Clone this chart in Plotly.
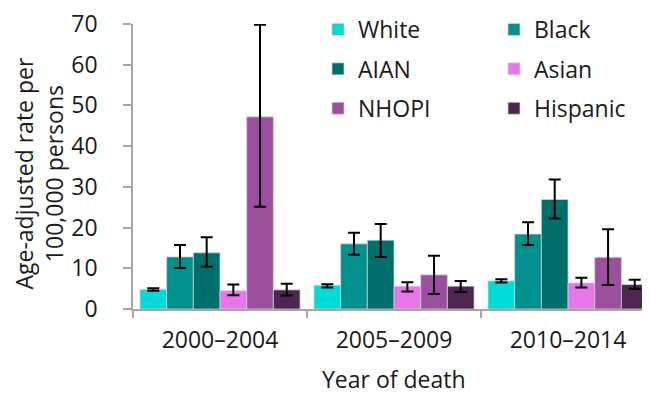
import plotly.graph_objects as go

categories = ["2000–2004", "2005–2009", "2010–2014"]
groups = ["White", "Black", "AIAN", "Asian", "NHOPI", "Hispanic"]

white = [4.8, 5.8, 6.9]
white_hi = [5.1, 6.1, 7.3]
white_lo = [4.5, 5.3, 6.5]

black = [12.8, 16.0, 18.4]
black_hi = [15.7, 18.7, 21.3]
black_lo = [10.1, 13.3, 15.7]

aian = [13.8, 16.9, 26.9]
aian_hi = [17.6, 20.9, 31.8]
aian_lo = [10.4, 12.8, 22.2]

asian = [4.5, 5.6, 6.4]
asian_hi = [6.0, 6.6, 7.7]
asian_lo = [3.4, 4.3, 5.3]

nhopi = [47.2, 8.4, 12.7]
nhopi_hi = [69.8, 13.1, 19.6]
nhopi_lo = [25.1, 3.7, 5.9]

hispanic = [4.7, 5.6, 6.0]
hispanic_hi = [6.2, 6.9, 7.2]
hispanic_lo = [3.3, 4.2, 5.0]

x_title = "Year of death"
y_title = "Age-adjusted rate per<br>100,000 persons"

colors = ["#00DBD8", "#00918D", "#006E6A", "#E677EA", "#9B4F9E", "#4F2650"]

series = [
    (white, white_hi, white_lo),
    (black, black_hi, black_lo),
    (aian, aian_hi, aian_lo),
    (asian, asian_hi, asian_lo),
    (nhopi, nhopi_hi, nhopi_lo),
    (hispanic, hispanic_hi, hispanic_lo),
]

FONT = "Open Sans"
TXT = "#1a1a1a"
fig = go.Figure()
for i, (name, (vals, hi, lo)) in enumerate(zip(groups, series)):
    fig.add_trace(go.Bar(
        x=categories, y=vals, name=name,
        marker=dict(color=colors[i], line=dict(color="rgba(215,215,215,0.9)", width=0.8)),
        error_y=dict(type="data", symmetric=False,
                     array=[h - v for h, v in zip(hi, vals)],
                     arrayminus=[v - l for v, l in zip(vals, lo)],
                     color="black", thickness=2, width=6),
        legend="legend" if i % 2 == 0 else "legend2",
        legendgroup=name,
    ))

leg_common = dict(font=dict(family=FONT, size=23, color=TXT),
                  orientation="v", xanchor="left", yanchor="top",
                  xref="container", yref="container",
                  tracegroupgap=6.5, bgcolor="rgba(0,0,0,0)")

fig.update_layout(
    width=642, height=386,
    margin=dict(l=125, r=0, t=16, b=85, autoexpand=False),
    paper_bgcolor="white", plot_bgcolor="white",
    font=dict(family=FONT, size=23, color=TXT),
    barmode="group", bargap=0.08, bargroupgap=0,
    showlegend=True,
    legend=dict(x=0.4829, y=1.0078, **leg_common),
    legend2=dict(x=0.757, y=1.0078, **leg_common),
    xaxis=dict(
        range=[-0.5, 2.471], showline=True, linecolor="#A6A6A6", linewidth=1.5,
        ticks="outside", tickson="boundaries", ticklen=7, tickcolor="#A6A6A6",
        tickwidth=1.5, showgrid=False, automargin=False, ticklabelstandoff=10,
        tickfont=dict(family=FONT, size=23, color=TXT),
    ),
    yaxis=dict(
        range=[0, 70], dtick=10, showline=True, linecolor="#A6A6A6", linewidth=1.5,
        ticks="outside", ticklen=8, tickcolor="#A6A6A6", tickwidth=1.5,
        showgrid=False, zeroline=False, automargin=False, ticklabelstandoff=21,
        ticklabeloverflow="allow",
        tickfont=dict(family=FONT, size=23, color=TXT),
    ),
    annotations=[
        dict(text=x_title, xref="paper", yref="paper", x=0.5039, y=-0.2456,
             xanchor="center", yanchor="middle", showarrow=False,
             font=dict(family=FONT, size=23, color=TXT)),
        dict(text=y_title, xref="paper", yref="paper", x=-0.1818, y=0.4754,
             xanchor="center", yanchor="middle", showarrow=False, textangle=-90,
             font=dict(family=FONT, size=23, color=TXT)),
    ],
)

fig.write_html("out.html")
